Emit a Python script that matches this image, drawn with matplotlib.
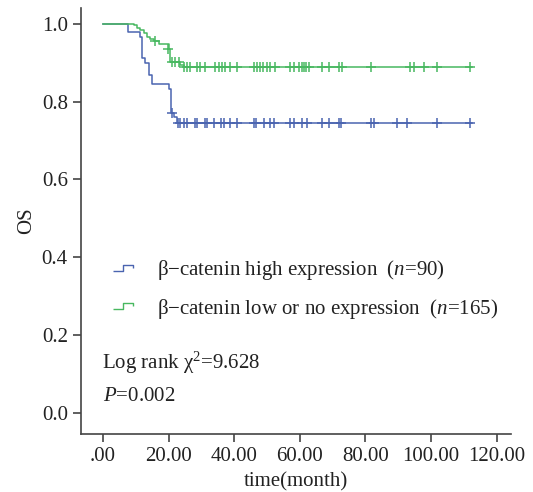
import matplotlib
matplotlib.use("Agg")
import matplotlib.pyplot as plt
from matplotlib.lines import Line2D
from matplotlib.path import Path

plt.rcParams['font.family'] = ['Liberation Serif', 'DejaVu Serif']
plt.rcParams['mathtext.fontset'] = 'custom'
plt.rcParams['mathtext.rm'] = 'Liberation Serif'
plt.rcParams['mathtext.it'] = 'Liberation Serif:italic'

# step curves (time in months, survival)
high_t = [0, 7.7, 11.4, 11.9, 12.9, 13.9, 14.9, 20.0, 20.8, 21.5, 22.7, 112.5]
high_s = [1.0, 0.980, 0.967, 0.912, 0.899, 0.869, 0.846, 0.832, 0.771, 0.761, 0.745, 0.745]
high_cens = [20.9, 22.8, 23.6, 24.6, 25.6, 28.1, 28.8, 31.2, 31.7, 33.9, 36.1, 36.8,
             38.8, 40.9, 45.9, 46.6, 49.0, 51.0, 52.0, 57.1, 58.1, 60.7, 62.2,
             66.8, 68.8, 71.8, 72.6, 81.7, 82.5, 89.6, 92.7, 101.8, 111.8]
high_cens_s = [0.771] + [0.745] * 32

low_t = [0, 9.3, 10.4, 11.4, 12.4, 13.4, 14.4, 15.4, 17.0, 20.0, 20.5, 23.6, 24.6, 112.5]
low_s = [1.0, 0.997, 0.990, 0.983, 0.976, 0.967, 0.960, 0.955, 0.948, 0.935, 0.903,
         0.895, 0.889, 0.889]
low_cens = [15.9, 19.7, 21.0, 22.0, 23.1, 24.8, 25.6, 26.4, 28.7, 29.7, 31.2, 34.2,
            35.3, 36.3, 37.3, 38.6, 40.9, 45.9, 46.9, 47.9, 48.9, 50.0, 51.0, 52.5,
            57.1, 58.1, 59.6, 60.7, 61.4, 62.0, 62.7, 66.8, 68.8, 71.8, 72.9, 81.7,
            93.7, 94.7, 97.7, 101.8, 111.8]
low_cens_s = [0.955, 0.935, 0.903, 0.903, 0.903] + [0.889] * 36

labels = ['\u03b2\u2212catenin high expression  ($n$=90)',
          '\u03b2\u2212catenin low or no expression  ($n$=165)']
xticks = [0, 20, 40, 60, 80, 100, 120]
xticklabels = ['.00', '20.00', '40.00', '60.00', '80.00', '100.00', '120.00']
yticks = [0.0, 0.2, 0.4, 0.6, 0.8, 1.0]

blue = '#4a64b0'
green = '#48b860'
axis_col = '#444444'

fig = plt.figure(figsize=(5.33, 4.92), dpi=100)
ax = fig.add_axes([0.152, 0.118, 0.807, 0.866])

ax.step(high_t, high_s, where='post', color=blue, lw=1.1)
ax.plot(high_cens, high_cens_s, '+', color=blue, ms=6.5, mew=1.1)
ax.step(low_t, low_s, where='post', color=green, lw=1.1)
ax.plot(low_cens, low_cens_s, '+', color=green, ms=6.5, mew=1.1)

ax.set_xlim(-6.7, 124.4)
ax.set_ylim(-0.054, 1.041)
ax.set_xticks(xticks)
ax.set_xticklabels(xticklabels)
ax.set_yticks(yticks)
ax.set_yticklabels(['%.1f' % v for v in yticks])
ax.tick_params(labelsize=15, colors=axis_col, labelcolor='#222222', length=6, width=1.2)
for s in ['top', 'right']:
    ax.spines[s].set_visible(False)
for s in ['left', 'bottom']:
    ax.spines[s].set_color(axis_col)
    ax.spines[s].set_linewidth(1.2)

ax.set_xlabel('time(month)', fontsize=15, color='#222222', labelpad=4.5)
ax.set_ylabel('OS', fontsize=15, color='#222222', labelpad=4)

step_icon = Path([(-1, -0.3), (0, -0.3), (0, 0.3), (1, 0.3), (1, 0.0)])
handles = [Line2D([], [], ls='none', marker=step_icon, ms=14, mfc='none', mec=blue, mew=1.0),
           Line2D([], [], ls='none', marker=step_icon, ms=14, mfc='none', mec=green, mew=1.0)]
ax.legend(handles, labels, loc='upper left', bbox_to_anchor=(0.017, 0.456), frameon=False,
          fontsize=15, handlelength=1.5, handletextpad=0.9, labelspacing=0.69,
          labelcolor='#222222')

ax.text(0.048, 0.167, 'Log rank \u03c7$^{2}$=9.628', transform=ax.transAxes,
        fontsize=15, color='#222222', va='center')
ax.text(0.052, 0.088, '$P$=0.002', transform=ax.transAxes,
        fontsize=15, color='#222222', va='center')

fig.savefig('out.png', dpi=100)
